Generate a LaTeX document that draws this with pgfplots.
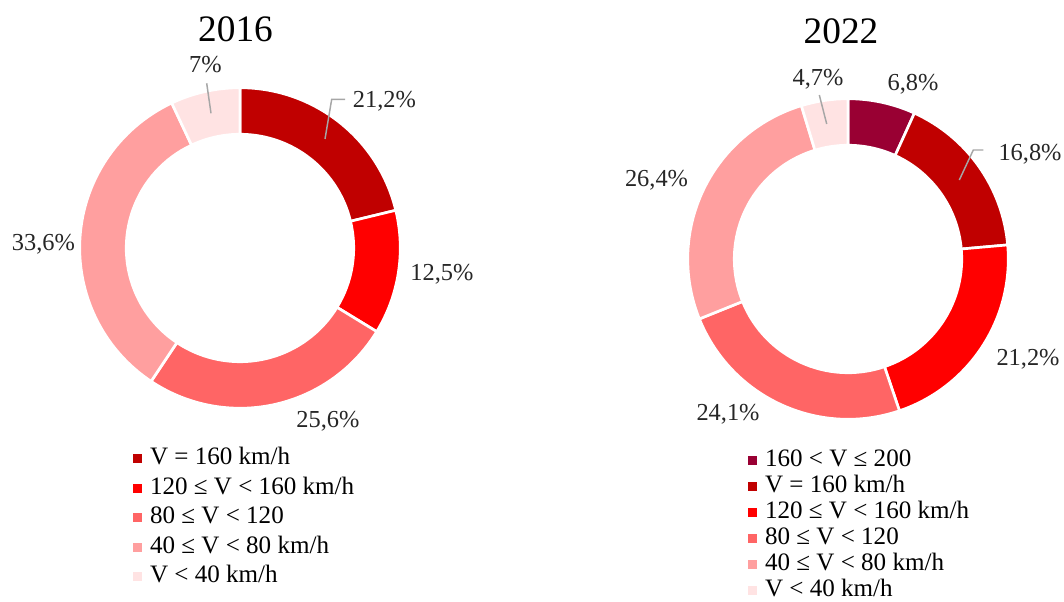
\documentclass[border=0pt]{standalone}
\usepackage{fontspec}
\setmainfont{Liberation Serif}
\usepackage{pgfplots}
\usepackage{pgfplotstable}
\pgfplotsset{compat=1.18}
\usetikzlibrary{calc}
\definecolor{c1}{HTML}{990033}
\definecolor{c2}{HTML}{C00000}
\definecolor{c3}{HTML}{FF0000}
\definecolor{c4}{HTML}{FF6565}
\definecolor{c5}{HTML}{FF9F9F}
\definecolor{c6}{HTML}{FFE3E3}
\definecolor{lead}{HTML}{A6A6A6}

\pgfplotstableread{
v col
21.2 c2
12.5 c3
25.6 c4
33.6 c5
7.0 c6
}\tabA
\pgfplotstableread{
v col
6.8 c1
16.8 c2
21.2 c3
24.1 c4
26.4 c5
4.7 c6
}\tabB

% #1 table, #2 cx, #3 cy (axis units), #4 last row index
\newcommand\donut[4]{%
  \def\tot{0}%
  \pgfplotsforeachungrouped \i in {0,...,#4}{%
    \pgfplotstablegetelem{\i}{v}\of#1%
    \pgfmathsetmacro\tot{\tot+\pgfplotsretval}}%
  \def\ang{90}%
  \pgfplotsforeachungrouped \i in {0,...,#4}{%
    \pgfplotstablegetelem{\i}{v}\of#1\let\val\pgfplotsretval
    \pgfplotstablegetelem{\i}{col}\of#1\let\col\pgfplotsretval
    \pgfmathsetmacro\angb{\ang-360*\val/\tot}%
    \edef\cmd{\noexpand\fill[\col,draw=white,line width=2pt]
      ($(axis cs:#2,#3)+(\ang:120.2pt)$) arc[start angle=\ang,end angle=\angb,radius=120.2pt]
      -- ($(axis cs:#2,#3)+(\angb:85.3pt)$) arc[start angle=\angb,end angle=\ang,radius=85.3pt] -- cycle;}%
    \cmd
    \let\ang\angb}%
}

\pgfplotsset{
  canvas/.style={
    scale only axis, width=798pt, height=451.5pt,
    xmin=0, xmax=1064, ymin=0, ymax=602,
    hide axis, at={(0,0)}, anchor=south west,
    legend cell align=left,
    legend image code/.code={\fill[##1] (0pt,-3.4pt) rectangle (6.8pt,3.4pt);},
    legend style={draw=none, fill=none, inner sep=0pt, outer sep=0pt,
      font=\fontsize{18.8}{21}\selectfont,
      nodes={inner sep=0pt, text height=12.5pt, text depth=3.5pt},
      /tikz/every odd column/.append style={column sep=6pt}},
  },
}
\tikzset{lab/.style={font=\fontsize{18.3}{21}\selectfont, inner sep=0pt, text depth=0pt, text=black!85},
  ttl/.style={font=\fontsize{28}{32}\selectfont, inner sep=0pt, text depth=0pt},
  ldr/.style={draw=lead, line width=1.1pt}}

\begin{document}
\begin{tikzpicture}
\useasboundingbox (0,0) rectangle (798pt,451.5pt);
% ---------------- 2016 ----------------
\begin{axis}[canvas,
  legend style={at={(133/1064,1-448/602)}, anchor=north west, row sep=6.1pt}]
\addlegendimage{fill=c2,draw=none}\addlegendentry{V = 160 km/h}
\addlegendimage{fill=c3,draw=none}\addlegendentry{120 ≤ V < 160 km/h}
\addlegendimage{fill=c4,draw=none}\addlegendentry{80 ≤ V < 120}
\addlegendimage{fill=c5,draw=none}\addlegendentry{40 ≤ V < 80 km/h}
\addlegendimage{fill=c6,draw=none}\addlegendentry{V < 40 km/h}
\donut{\tabA}{240}{354}{4}
\node[ttl] at (axis cs:235.5,572.5) {2016};
\node[lab] at (axis cs:384.5,503) {21,2\%};
\node[lab] at (axis cs:442,330) {12,5\%};
\node[lab] at (axis cs:328,183) {25,6\%};
\node[lab] at (axis cs:43.5,360) {33,6\%};
\node[lab] at (axis cs:205.5,538) {7\%};
\draw[ldr] (axis cs:325,463) -- (axis cs:331.7,502.7) -- (axis cs:345,502.7);
\draw[ldr] (axis cs:206.7,518.7) -- (axis cs:211,488.7);
\end{axis}
% ---------------- 2022 ----------------
\begin{axis}[canvas,
  legend style={at={(748/1064,1-449.5/602)}, anchor=north west, row sep=3.6pt}]
\addlegendimage{fill=c1,draw=none}\addlegendentry{160 < V ≤ 200}
\addlegendimage{fill=c2,draw=none}\addlegendentry{V = 160 km/h}
\addlegendimage{fill=c3,draw=none}\addlegendentry{120 ≤ V < 160 km/h}
\addlegendimage{fill=c4,draw=none}\addlegendentry{80 ≤ V < 120}
\addlegendimage{fill=c5,draw=none}\addlegendentry{40 ≤ V < 80 km/h}
\addlegendimage{fill=c6,draw=none}\addlegendentry{V < 40 km/h}
\donut{\tabB}{848}{343}{5}
\node[ttl] at (axis cs:841,571) {2022};
\node[lab] at (axis cs:818,525) {4,7\%};
\node[lab] at (axis cs:913,520) {6,8\%};
\node[lab] at (axis cs:1030,450) {16,8\%};
\node[lab] at (axis cs:1028,245) {21,2\%};
\node[lab] at (axis cs:728,190) {24,1\%};
\node[lab] at (axis cs:656.5,424) {26,4\%};
\draw[ldr] (axis cs:819.3,507) -- (axis cs:826.7,478);
\draw[ldr] (axis cs:959.3,422) -- (axis cs:973.3,452) -- (axis cs:983.3,452);
\end{axis}
\end{tikzpicture}
\end{document}
